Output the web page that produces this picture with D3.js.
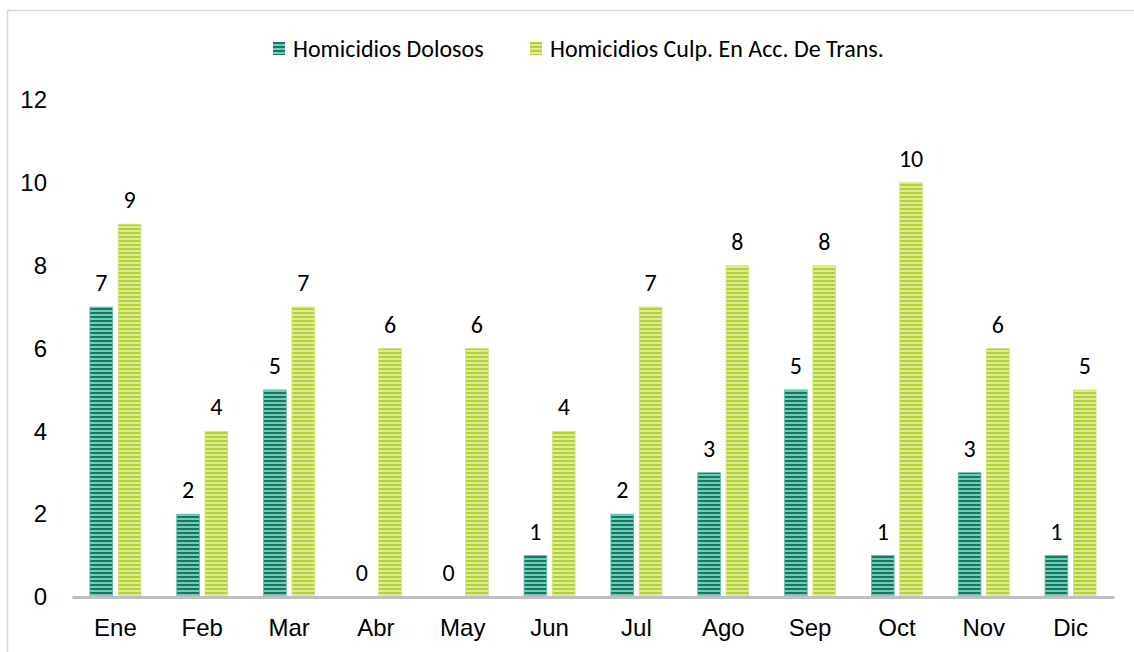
<!DOCTYPE html>
<html>
<head>
<meta charset="utf-8">
<script src="https://cdn.jsdelivr.net/npm/d3@7/dist/d3.min.js"></script>
<style>
  body { margin: 0; background: #fff; }
  svg { font-family: Carlito, Lato, "Open Sans", sans-serif; }
</style>
</head>
<body>
<div id="chart"></div>
<script>
const months = ["Ene", "Feb", "Mar", "Abr", "May", "Jun", "Jul", "Ago", "Sep", "Oct", "Nov", "Dic"];
const seriesNames = ["Homicidios Dolosos", "Homicidios Culp. En Acc. De Trans."];
const dolosos = [7, 2, 5, 0, 0, 1, 2, 3, 5, 1, 3, 1];
const culposos = [9, 4, 7, 6, 6, 4, 7, 8, 8, 10, 6, 5];
const yTicks = [0, 2, 4, 6, 8, 10, 12];

const width = 1134, height = 652;
const margin = { top: 100, right: 20, bottom: 55, left: 72 };
const FS = 24;

const svg = d3.select("#chart").append("svg")
    .attr("width", width)
    .attr("height", height);

// chart frame (runs off the right and bottom edge)
svg.append("rect")
    .attr("x", 7.5).attr("y", 10.5)
    .attr("width", width + 10).attr("height", height + 10)
    .attr("fill", "none")
    .attr("stroke", "#d9d9d9")
    .attr("stroke-width", 1.5);

// striped fills
const defs = svg.append("defs");
function stripes(id, dark, light) {
  const p = defs.append("pattern")
      .attr("id", id)
      .attr("patternUnits", "userSpaceOnUse")
      .attr("width", 8).attr("height", 4);
  p.append("rect").attr("width", 8).attr("height", 4).attr("fill", light);
  p.append("rect").attr("width", 8).attr("height", 2).attr("fill", dark);
}
stripes("pDark", "#1b7565", "#6fcdb6");
stripes("pLight", "#b3d135", "#dcec93");
const fills = ["url(#pDark)", "url(#pLight)"];
const edges = ["#5fb9a5", "#cfe47a"];

const x = d3.scaleBand()
    .domain(months)
    .range([margin.left, 1114])
    .paddingInner(0)
    .paddingOuter(0);

const x1 = d3.scaleBand()
    .domain([0, 1])
    .range([0, 51])
    .paddingInner(0.2);

const y = d3.scaleLinear()
    .domain([0, 12])
    .range([597, 100]);

// y axis labels
svg.append("g")
    .attr("transform", `translate(47,0)`)
    .call(d3.axisLeft(y).tickValues(yTicks).tickSize(0).tickPadding(0))
    .call(g => g.select(".domain").remove())
    .selectAll("text")
    .attr("font-size", FS)
    .attr("fill", "#000")
    .attr("font-family", null);

const data = months.map((m, i) => ({ month: m, values: [dolosos[i], culposos[i]] }));

const groups = svg.append("g").selectAll("g")
    .data(data)
    .join("g")
    .attr("transform", d => `translate(${x(d.month) + (x.bandwidth() - 51) / 2},0)`);

groups.selectAll("rect")
    .data(d => d.values.map((v, k) => ({ v, k })))
    .join("rect")
    .attr("x", d => x1(d.k))
    .attr("width", x1.bandwidth())
    .attr("y", d => y(d.v))
    .attr("height", d => y(0) - y(d.v))
    .attr("fill", d => fills[d.k])
    .attr("stroke", d => edges[d.k])
    .attr("stroke-width", 0.8);

groups.selectAll("text")
    .data(d => d.values.map((v, k) => ({ v, k })))
    .join("text")
    .attr("x", d => x1(d.k) + x1.bandwidth() / 2)
    .attr("y", d => y(d.v) - 16)
    .attr("text-anchor", "middle")
    .attr("font-size", FS)
    .attr("fill", "#000")
    .text(d => d.v);

// x axis
const xAxis = svg.append("g")
    .attr("transform", `translate(0,${y(0)})`)
    .call(d3.axisBottom(x).tickSize(0).tickPadding(22));
xAxis.select(".domain")
    .attr("stroke", "#bfbfbf")
    .attr("stroke-width", 3);
xAxis.selectAll("text")
    .attr("font-size", FS)
    .attr("fill", "#000")
    .attr("font-family", null);

// legend
const legendX = [273, 530];
const legend = svg.append("g").selectAll("g")
    .data(seriesNames)
    .join("g")
    .attr("transform", (d, i) => `translate(${legendX[i]},42)`);
legend.append("rect")
    .attr("width", 12).attr("height", 13)
    .attr("fill", (d, i) => fills[i]);
legend.append("text")
    .attr("x", 20).attr("y", 15)
    .attr("font-size", FS)
    .attr("fill", "#000")
    .text(d => d);
</script>
</body>
</html>
